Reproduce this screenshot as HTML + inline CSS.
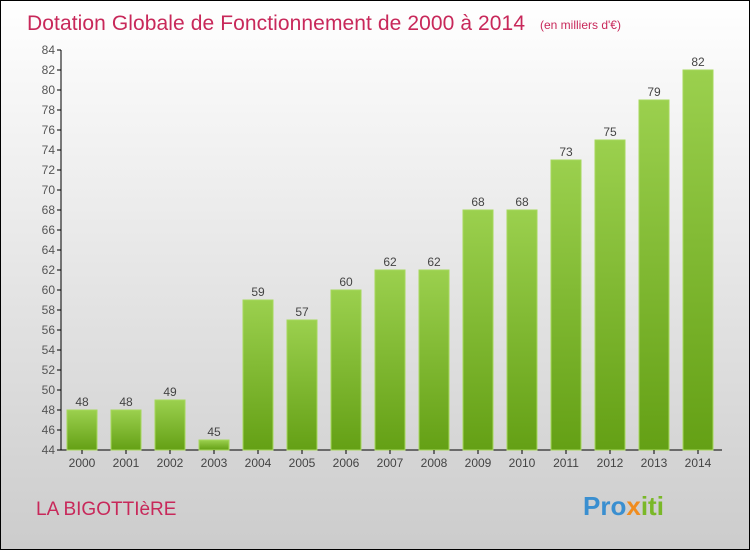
<!DOCTYPE html>
<html><head><meta charset="utf-8"><style>
body{margin:0}
#c{width:748px;height:548px;border:1px solid #000;background:linear-gradient(#fff,#ccc);position:relative;font-family:"Liberation Sans",sans-serif;overflow:hidden}
</style></head><body>
<div id="c">
<svg id="s" width="748" height="548" style="position:absolute;left:0;top:0">
<defs><linearGradient id="g" x1="0" y1="0" x2="0" y2="1"><stop offset="0" stop-color="#9bd04e"/><stop offset="1" stop-color="#64a015"/></linearGradient></defs>
<text x="26" y="29" font-size="21" fill="#c8285a" textLength="498">Dotation Globale de Fonctionnement de 2000 à 2014</text>
<text x="539" y="28" font-size="12" fill="#c8285a">(en milliers d'€)</text>
<text x="35" y="514" font-size="19" fill="#c8285a">LA BIGOTTIèRE</text>
<text x="582" y="514" font-size="26" font-weight="bold" fill="#3a8fd0">Pro<tspan fill="#f08c1e">x</tspan><tspan fill="#7ab828">iti</tspan></text>
<g id="plot"></g>
</svg>
</div>
<script>
const years=["2000","2001","2002","2003","2004","2005","2006","2007","2008","2009","2010","2011","2012","2013","2014"];
const values=[48,48,49,45,59,57,60,62,62,68,68,73,75,79,82];
const yTicks=[44,46,48,50,52,54,56,58,60,62,64,66,68,70,72,74,76,78,80,82,84];
const ns="http://www.w3.org/2000/svg",p=document.getElementById('plot');
const y=v=>449-(v-44)*10, x=i=>81+44*i;
function mk(t,a,txt){const e=document.createElementNS(ns,t);for(const k in a)e.setAttribute(k,a[k]);if(txt!=null)e.textContent=txt;p.appendChild(e);return e;}
let ax=mk('line',{x1:60,y1:49,x2:60,y2:449,stroke:'#000'});


let bx=mk('line',{x1:60,y1:449,x2:721,y2:449,stroke:'#000'});


yTicks.forEach(v=>{
 mk('line',{x1:56,y1:y(v),x2:60,y2:y(v),stroke:'#000'});
 let t=mk('text',{x:54,y:y(v)+4,'font-size':12,fill:'#555','text-anchor':'end'},v);
 
 
});
years.forEach((yr,i)=>{
 const v=values[i];
 let r=mk('rect',{x:x(i)-15,y:y(v),width:30,height:449-y(v),fill:'url(#g)',stroke:'#a6d85c','stroke-width':1});
 
 
 mk('line',{x1:x(i),y1:449,x2:x(i),y2:453,stroke:'#000'});
 let l=mk('text',{x:x(i),y:y(v)-4,'font-size':12,fill:'#444','text-anchor':'middle'},v);
 
 
 let t=mk('text',{x:x(i),y:466,'font-size':12,fill:'#444','text-anchor':'middle'},yr);
 
 
});
</script>
</body></html>
